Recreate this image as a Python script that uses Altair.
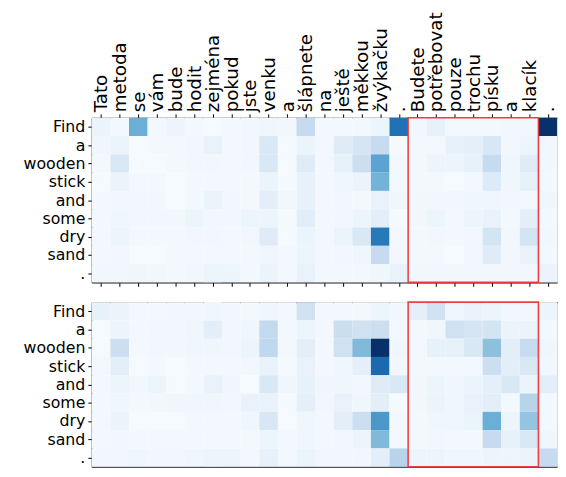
import json
import altair as alt
import pandas as pd

cz_words = ["Tato", "metoda", "se", "vám", "bude", "hodit", "zejména", "pokud", "jste",
            "venku", "a", "šlápnete", "na", "ještě", "měkkou", "žvýkačku", ".", "Budete",
            "potřebovat", "pouze", "trochu", "písku", "a", "klacík", "."]
en_words = ["Find", "a", "wooden", "stick", "and", "some", "dry", "sand", "."]

top_attn = [
    [0.06, 0.02, 0.50, 0.02, 0.05, 0.02, 0.01, 0.02, 0.03, 0.04, 0.03, 0.25, 0.02, 0.02, 0.02, 0.05, 0.75, 0.03, 0.08, 0.02, 0.02, 0.02, 0.03, 0.03, 1.00],
    [0.04, 0.06, 0.01, 0.02, 0.02, 0.03, 0.07, 0.02, 0.03, 0.15, 0.01, 0.06, 0.02, 0.12, 0.17, 0.25, 0.01, 0.02, 0.02, 0.08, 0.09, 0.16, 0.03, 0.05, 0.03],
    [0.02, 0.15, 0.01, 0.01, 0.02, 0.03, 0.03, 0.02, 0.03, 0.15, 0.01, 0.12, 0.02, 0.08, 0.22, 0.55, 0.02, 0.02, 0.05, 0.05, 0.08, 0.25, 0.04, 0.12, 0.03],
    [0.01, 0.06, 0.02, 0.02, 0.01, 0.02, 0.02, 0.02, 0.02, 0.06, 0.01, 0.08, 0.02, 0.04, 0.06, 0.48, 0.02, 0.02, 0.02, 0.01, 0.02, 0.13, 0.04, 0.08, 0.02],
    [0.02, 0.03, 0.03, 0.03, 0.01, 0.02, 0.06, 0.03, 0.02, 0.10, 0.03, 0.08, 0.02, 0.03, 0.02, 0.07, 0.04, 0.03, 0.03, 0.03, 0.04, 0.04, 0.03, 0.02, 0.04],
    [0.02, 0.04, 0.03, 0.03, 0.03, 0.05, 0.03, 0.03, 0.05, 0.05, 0.01, 0.11, 0.02, 0.03, 0.05, 0.10, 0.01, 0.03, 0.05, 0.02, 0.05, 0.07, 0.02, 0.10, 0.02],
    [0.02, 0.05, 0.02, 0.02, 0.02, 0.03, 0.03, 0.02, 0.03, 0.12, 0.01, 0.06, 0.02, 0.06, 0.15, 0.72, 0.02, 0.02, 0.03, 0.02, 0.03, 0.18, 0.03, 0.18, 0.03],
    [0.02, 0.03, 0.01, 0.01, 0.02, 0.02, 0.02, 0.02, 0.02, 0.04, 0.02, 0.05, 0.02, 0.03, 0.04, 0.25, 0.03, 0.02, 0.02, 0.01, 0.03, 0.12, 0.03, 0.07, 0.02],
    [0.03, 0.03, 0.04, 0.03, 0.02, 0.03, 0.05, 0.05, 0.02, 0.06, 0.02, 0.07, 0.02, 0.02, 0.02, 0.04, 0.07, 0.03, 0.03, 0.03, 0.03, 0.03, 0.03, 0.03, 0.06],
]

bottom_attn = [
    [0.08, 0.06, 0.02, 0.02, 0.03, 0.03, 0.04, 0.03, 0.02, 0.04, 0.02, 0.20, 0.02, 0.02, 0.02, 0.05, 0.03, 0.09, 0.20, 0.04, 0.07, 0.05, 0.03, 0.03, 0.05],
    [0.01, 0.05, 0.02, 0.03, 0.03, 0.04, 0.10, 0.03, 0.04, 0.26, 0.02, 0.05, 0.02, 0.23, 0.20, 0.22, 0.02, 0.02, 0.04, 0.20, 0.17, 0.18, 0.06, 0.06, 0.02],
    [0.01, 0.22, 0.02, 0.03, 0.03, 0.04, 0.04, 0.03, 0.05, 0.27, 0.02, 0.10, 0.02, 0.20, 0.45, 1.00, 0.04, 0.02, 0.08, 0.08, 0.15, 0.42, 0.10, 0.24, 0.04],
    [0.02, 0.10, 0.01, 0.02, 0.01, 0.02, 0.02, 0.02, 0.03, 0.07, 0.01, 0.07, 0.02, 0.04, 0.09, 0.78, 0.03, 0.02, 0.02, 0.02, 0.02, 0.22, 0.10, 0.15, 0.03],
    [0.02, 0.05, 0.03, 0.05, 0.01, 0.02, 0.07, 0.04, 0.01, 0.15, 0.04, 0.08, 0.04, 0.04, 0.03, 0.12, 0.15, 0.03, 0.05, 0.04, 0.06, 0.09, 0.15, 0.06, 0.10],
    [0.02, 0.04, 0.02, 0.03, 0.04, 0.04, 0.04, 0.03, 0.07, 0.07, 0.01, 0.09, 0.03, 0.07, 0.04, 0.10, 0.01, 0.03, 0.06, 0.04, 0.07, 0.10, 0.02, 0.30, 0.02],
    [0.02, 0.06, 0.01, 0.01, 0.01, 0.02, 0.02, 0.02, 0.04, 0.16, 0.01, 0.04, 0.02, 0.10, 0.22, 0.60, 0.02, 0.02, 0.04, 0.04, 0.06, 0.50, 0.05, 0.40, 0.02],
    [0.02, 0.03, 0.02, 0.02, 0.02, 0.02, 0.02, 0.02, 0.02, 0.05, 0.02, 0.04, 0.02, 0.03, 0.05, 0.45, 0.02, 0.02, 0.03, 0.02, 0.02, 0.25, 0.08, 0.15, 0.04],
    [0.03, 0.03, 0.04, 0.03, 0.03, 0.04, 0.05, 0.05, 0.02, 0.08, 0.02, 0.06, 0.03, 0.03, 0.03, 0.10, 0.30, 0.05, 0.05, 0.04, 0.04, 0.05, 0.05, 0.06, 0.25],
]

# highlighted target-span: "Budete" ... "klacík"
highlight_first = "Budete"
highlight_last = "klacík"

blues9 = ["#f7fbff", "#deebf7", "#c6dbef", "#9ecae1", "#6baed6",
          "#4292c6", "#2171b5", "#08519c", "#08306b"]

n_cols = len(cz_words)
n_rows = len(en_words)
h0 = cz_words.index(highlight_first)
h1 = cz_words.index(highlight_last) + 1

FONT = "DejaVu Sans"
FS_X = 18.5
FS_Y = 16
PANEL_W = 472
PANEL_H = 167

x_expr = json.dumps(cz_words, ensure_ascii=False) + "[floor(datum.value)]"
y_expr = json.dumps(en_words, ensure_ascii=False) + "[floor(datum.value)]"
x_vals = [j + 0.5 for j in range(n_cols)]
y_vals = [i + 0.5 for i in range(n_rows)]

xscale = alt.Scale(domain=[0, n_cols], nice=False, zero=False)
yscale = alt.Scale(domain=[0, n_rows], nice=False, zero=False, reverse=True)
cscale = alt.Scale(domain=[k / 8 for k in range(9)], range=blues9)

box_df = pd.DataFrame([{"x": h0, "x2": h1, "y": 0, "y2": n_rows}])

SPINE = dict(domain=True, domainColor="#222222", domainWidth=1.2)


def make_df(matrix):
    return pd.DataFrame([
        {"col": j, "col2": j + 1, "row": i, "row2": i + 1, "w": v}
        for i, r in enumerate(matrix) for j, v in enumerate(r)
    ])


def y_axis():
    return alt.Axis(values=y_vals, labelExpr=y_expr, title=None, grid=False,
                    tickSize=4, tickColor="black", labelPadding=3, labelFont=FONT,
                    labelFontSize=FS_Y, labelColor="black", labelAlign="right",
                    labelBaseline="middle", labelOverlap=False, labelBound=False, **SPINE)


def panel(matrix, top):
    df = make_df(matrix)
    if top:
        xa = alt.Axis(orient="top", values=x_vals, labelExpr=x_expr, title=None, grid=False,
                      tickSize=4, tickColor="black", labelPadding=2,
                      labelAngle=-90, labelAlign="left", labelBaseline="middle",
                      labelFont=FONT, labelFontSize=FS_X, labelColor="black",
                      labelOverlap=False, labelBound=False, **SPINE)
        xb = alt.Axis(orient="bottom", values=x_vals, labels=False, title=None, grid=False,
                      tickSize=4, tickColor="black", **SPINE)
    else:
        xa = alt.Axis(orient="top", labels=False, ticks=False, title=None, grid=False, **SPINE)
        xb = alt.Axis(orient="bottom", labels=False, ticks=False, title=None, grid=False, **SPINE)
    heat = alt.Chart(df).mark_rect(strokeWidth=0).encode(
        x=alt.X("col:Q", scale=xscale, axis=xa),
        x2="col2:Q",
        y=alt.Y("row:Q", scale=yscale, axis=y_axis()),
        y2="row2:Q",
        color=alt.Color("w:Q", scale=cscale, legend=None),
    )
    box = alt.Chart(box_df).mark_rect(filled=False, stroke="#f03030", strokeWidth=1.6,
                                       strokeOpacity=0.9).encode(
        x=alt.X("x:Q", scale=xscale, axis=xb),
        x2="x2:Q",
        y=alt.Y("y:Q", scale=yscale, axis=y_axis()),
        y2="y2:Q",
    )
    layered = alt.layer(heat, box).resolve_axis(x="independent")
    return layered.properties(width=PANEL_W, height=PANEL_H)


chart = alt.vconcat(panel(top_attn, True), panel(bottom_attn, False), spacing=13).properties(
    padding={"left": 14, "top": 0, "right": 0, "bottom": 0}
).configure_view(strokeWidth=0).configure(background="white")

chart.save("out.html", embed_options={"renderer": "svg", "actions": False})
